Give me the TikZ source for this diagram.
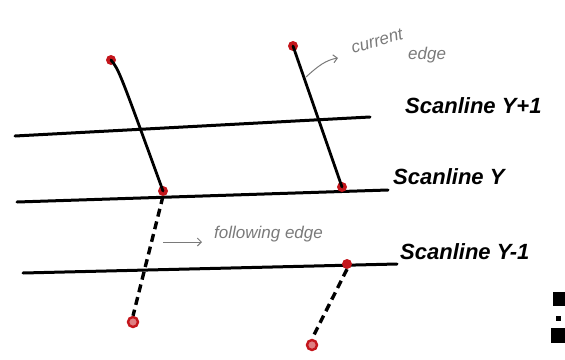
\documentclass[tikz,border=0pt]{standalone}
\usepackage{fontspec}
\setmainfont{Liberation Sans}
\usetikzlibrary{arrows.meta}
\definecolor{dotred}{HTML}{C4161C}
\definecolor{pencil}{HTML}{7A7A7A}
\tikzset{
  scanline/.style={line width=3pt, black, line cap=round},
  edgeline/.style={line width=2.8pt, black, line cap=round},
  dashedge/.style={line width=3.4pt, black, dash pattern=on 8pt off 5pt},
  reddot/.style={circle, fill=dotred, inner sep=0pt, minimum size=10pt},
  ringdot/.style={circle, draw=dotred, fill=dotred!55, line width=2.4pt, inner sep=0pt, minimum size=10pt},
  lbl/.style={font=\fontsize{22}{24}\selectfont\bfseries\itshape, anchor=west, inner sep=0pt},
  note/.style={font=\fontsize{17}{19}\selectfont\itshape, text=pencil, inner sep=0pt},
  notearrow/.style={pencil, line width=1pt, -{Straight Barb[length=4pt]}}
}
\begin{document}
\begin{tikzpicture}[x=1pt,y=-1pt]
\useasboundingbox (0,0) rectangle (565,359);
% scanline end points
\coordinate (y1L) at (15,136);  \coordinate (y1R) at (370,117);
\coordinate (y0L) at (17,202);  \coordinate (y0R) at (388,190);
\coordinate (ymL) at (23,273);  \coordinate (ymR) at (397,264);
\draw[scanline] (y1L) -- (y1R);
\draw[scanline] (y0L) -- (y0R);
\draw[scanline] (ymL) -- (ymR);
% labels
\node[lbl] (ly1) at (405,106) {Scanline Y+1};
\node[lbl] (ly0) at (393,177) {Scanline Y};
\node[lbl] (lym) at (400,252) {Scanline Y-1};
% dots
\node[reddot] (a1) at (111,60) {};
\node[reddot] (a2) at (163,191) {};
\node[reddot] (b1) at (293,46) {};
\node[reddot] (b2) at (342,187) {};
\node[reddot] (b3) at (347,264) {};
\node[ringdot] (a3) at (133,322) {};
\node[ringdot] (b4) at (312,345) {};
% edges
\draw[edgeline] (a1.center) .. controls (119,70) .. (a2.center);
\draw[edgeline] (b1.center) -- (b2.center);
\draw[dashedge] (a2.south) -- (a3.north);
\draw[dashedge] (b3.south) -- (b4.north);
% notes
\coordinate (ca) at (306,77);
\draw[notearrow] (ca) .. controls (318,66) and (326,60) .. (338,58);
\node[note, rotate=16, anchor=south west] (cur) at (353,54) {current};
\node[note, anchor=north west] (edg) at (408,47) {edge};
\coordinate (fa) at (163,242);
\draw[notearrow] (fa) -- (202,242);
\node[note, anchor=west] (fol) at (214,234) {following edge};
% marks at right border
\fill[black] (553,292) rectangle (565,306);
\fill[black] (556,316) rectangle (561,321);
\fill[black] (551,328) rectangle (565,343);
\end{tikzpicture}
\end{document}
